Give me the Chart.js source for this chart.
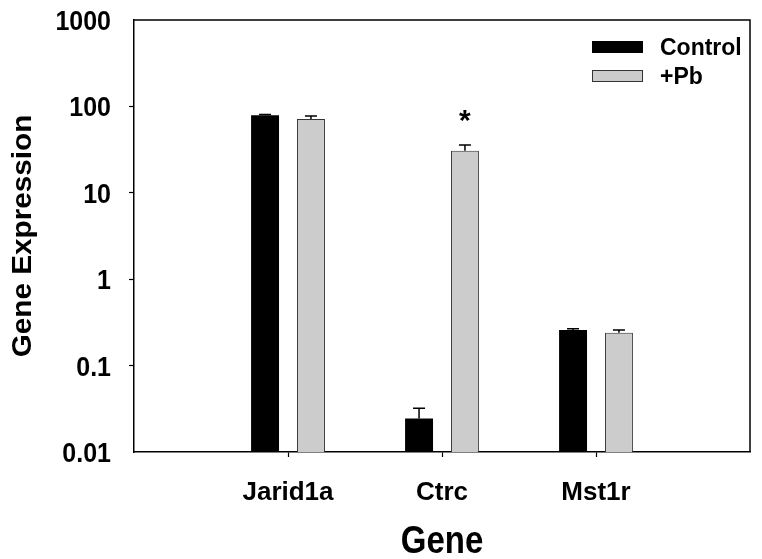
<!DOCTYPE html>
<html>
<head>
<meta charset="utf-8">
<script src="https://cdn.jsdelivr.net/npm/chart.js@4.4.1/dist/chart.umd.min.js"></script>
<style>
  html, body { margin: 0; padding: 0; background: #fff; }
  #wrap { width: 762px; height: 559px; }
</style>
</head>
<body>
<div id="wrap"><canvas id="c" width="762" height="559"></canvas></div>
<script>
// ---- data ----
const categories = ['Jarid1a', 'Ctrc', 'Mst1r'];
const seriesNames = ['Control', '+Pb'];
const controlValues = [79, 0.0245, 0.258];
const controlErrors = [1.5, 0.0075, 0.009];
const pbValues = [71.5, 30.7, 0.24];
const pbErrors = [6, 5, 0.019];
const significant = [false, true, false]; // '*' above +Pb bar
const yTickValues = [0.01, 0.1, 1, 10, 100, 1000];
const yTickLabels = ['0.01', '0.1', '1', '10', '100', '1000'];
const yTickMarks = [0.1, 1, 10, 100];
const xTitle = 'Gene';
const yTitle = 'Gene Expression';

const FONT = '"Liberation Sans", Arial, Helvetica, sans-serif';
const labels = ['', ...categories, ''];
const pad = a => [null, ...a, null];

const white = {
  id: 'white',
  beforeDraw(chart) {
    const ctx = chart.ctx;
    ctx.save();
    ctx.fillStyle = '#fff';
    ctx.fillRect(0, 0, chart.width, chart.height);
    ctx.restore();
  }
};

function drawText(ctx, text, x, y, size, align, sy) {
  ctx.save();
  ctx.translate(x, y);
  ctx.scale(1, sy || 1);
  ctx.font = 'bold ' + size + 'px ' + FONT;
  ctx.textAlign = align;
  ctx.textBaseline = 'alphabetic';
  ctx.fillStyle = '#000';
  ctx.fillText(text, 0, 0);
  ctx.restore();
}

const decor = {
  id: 'decor',
  afterDatasetsDraw(chart) {
    const ctx = chart.ctx;
    const ys = chart.scales.y;
    // error bars
    chart.data.datasets.forEach((ds, di) => {
      const meta = chart.getDatasetMeta(di);
      meta.data.forEach((bar, i) => {
        const v = ds.data[i];
        const e = ds.errors[i];
        if (v == null || e == null) return;
        const yTop = ys.getPixelForValue(v + e);
        ctx.save();
        ctx.strokeStyle = '#000';
        ctx.lineWidth = 1.5;
        ctx.beginPath();
        ctx.moveTo(bar.x, bar.y);
        ctx.lineTo(bar.x, yTop);
        ctx.moveTo(bar.x - 6, yTop);
        ctx.lineTo(bar.x + 6, yTop);
        ctx.stroke();
        ctx.restore();
        if (di === 1 && ds.sig[i]) {
          drawText(ctx, '*', bar.x, yTop - 15, 30, 'center', 1);
        }
      });
    });
  },
  afterDraw(chart) {
    const ctx = chart.ctx;
    const a = chart.chartArea;
    // top and right frame
    ctx.save();
    ctx.strokeStyle = '#000';
    ctx.lineWidth = 1.5;
    ctx.beginPath();
    ctx.moveTo(a.left, a.top);
    ctx.lineTo(a.right, a.top);
    ctx.lineTo(a.right, a.bottom);
    ctx.stroke();
    ctx.restore();
    // y tick labels
    const ys = chart.scales.y;
    const sizeY = 25, syY = 1.12;
    yTickValues.forEach((v, i) => {
      const y = ys.getPixelForValue(v);
      drawText(ctx, yTickLabels[i], 111, y + 0.716 * sizeY * syY / 2, sizeY, 'right', syY);
    });
    // x tick labels
    const xs = chart.scales.x;
    categories.forEach((c, i) => {
      drawText(ctx, c, xs.getPixelForValue(i + 1), 500, 26, 'center', 1);
    });
    // x title
    drawText(ctx, xTitle, (a.left + a.right) / 2, 553, 33, 'center', 1.15);
    // y title
    ctx.save();
    ctx.translate(31, (a.top + a.bottom) / 2);
    ctx.rotate(-Math.PI / 2);
    ctx.scale(1.1, 1);
    ctx.font = 'bold 27px ' + FONT;
    ctx.textAlign = 'center';
    ctx.textBaseline = 'alphabetic';
    ctx.fillStyle = '#000';
    ctx.fillText(yTitle, 0, 0);
    ctx.restore();
    // legend
    const ds = chart.data.datasets;
    const rows = [41, 70];
    ds.forEach((d, i) => {
      ctx.save();
      ctx.fillStyle = d.backgroundColor;
      ctx.fillRect(592, rows[i], 51, 12);
      ctx.strokeStyle = d.borderColor;
      ctx.lineWidth = 1;
      ctx.strokeRect(592.5, rows[i] + 0.5, 50, 11);
      ctx.restore();
      drawText(ctx, d.label, 660, rows[i] + 6 + 0.716 * 23 / 2, 23, 'left', 1);
    });
  }
};

new Chart(document.getElementById('c'), {
  type: 'bar',
  data: {
    labels: labels,
    datasets: [
      {
        label: seriesNames[0],
        data: pad(controlValues),
        errors: pad(controlErrors),
        sig: pad(significant.map(() => false)),
        backgroundColor: '#000000',
        borderColor: '#000000',
        borderWidth: 0
      },
      {
        label: seriesNames[1],
        data: pad(pbValues),
        errors: pad(pbErrors),
        sig: pad(significant),
        backgroundColor: '#cccccc',
        borderColor: '#333333',
        borderWidth: 1
      }
    ]
  },
  options: {
    responsive: false,
    animation: false,
    devicePixelRatio: 1,
    categoryPercentage: 0.596,
    barPercentage: 0.609,
    layout: { padding: { left: 129, top: 20, right: 12, bottom: 102 } },
    plugins: {
      legend: { display: false },
      tooltip: { enabled: false },
      title: { display: false }
    },
    scales: {
      x: {
        type: 'category',
        offset: false,
        grid: {
          offset: false,
          drawOnChartArea: false,
          drawTicks: true,
          tickLength: 5,
          tickColor: '#000',
          tickWidth: 1.2
        },
        border: { display: true, color: '#000', width: 1.5 },
        ticks: { display: false },
        afterBuildTicks: s => { s.ticks = s.ticks.filter(t => t.value >= 1 && t.value <= categories.length); },
        afterFit: s => { s.height = 5; }
      },
      y: {
        type: 'logarithmic',
        min: yTickValues[0],
        max: yTickValues[yTickValues.length - 1],
        grid: {
          drawOnChartArea: false,
          drawTicks: true,
          tickLength: 5,
          tickColor: '#000',
          tickWidth: 1.2
        },
        border: { display: true, color: '#000', width: 1.5 },
        ticks: { display: false },
        afterBuildTicks: s => { s.ticks = yTickMarks.map(v => ({ value: v })); },
        afterFit: s => { s.width = 5; }
      }
    }
  },
  plugins: [white, decor]
});
</script>
</body>
</html>
